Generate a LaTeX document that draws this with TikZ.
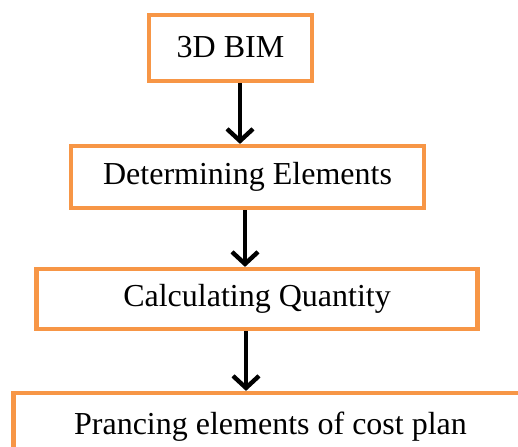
\documentclass[tikz,border=0pt]{standalone}
\usepackage{fontspec}
\setmainfont{Liberation Serif}
\usetikzlibrary{arrows.meta}
\definecolor{boxorange}{HTML}{F79646}
\begin{document}
\begin{tikzpicture}[x=1pt, y=-1pt,
        box/.style={draw=boxorange, line width=4.2pt, fill=white, inner sep=0pt,
            font=\fontsize{32}{38}\selectfont},
        flowarrow/.style={line width=4.4pt, -{Straight Barb[length=12pt, width=26pt]}}]
        % 枠
        \useasboundingbox (0,0) rectangle (518,446);
        \clip (0,0) rectangle (518,446);

        % ボックスの描画
        \node[box, minimum width=163pt, minimum height=66pt] (bim) at (230.5,48) {\raisebox{3pt}{3D BIM}};
        \node[box, minimum width=353pt, minimum height=62pt] (elem) at (247.5,177) {\raisebox{-4pt}{Determining Elements}};
        \node[box, minimum width=441pt, minimum height=60pt] (quant) at (257,299) {Calculating Quantity};
        \node[box, minimum width=514pt, minimum height=67pt] (plan) at (270.5,426.5) {\raisebox{-3pt}{Prancing elements of cost plan}};

        % 矢印の描画
        \foreach \a/\b/\xx in {bim/elem/240, elem/quant/245, quant/plan/246}
            \draw[flowarrow] (\a.south -| \xx,0) -- (\b.north -| \xx,0);

    \end{tikzpicture}
\end{document}
